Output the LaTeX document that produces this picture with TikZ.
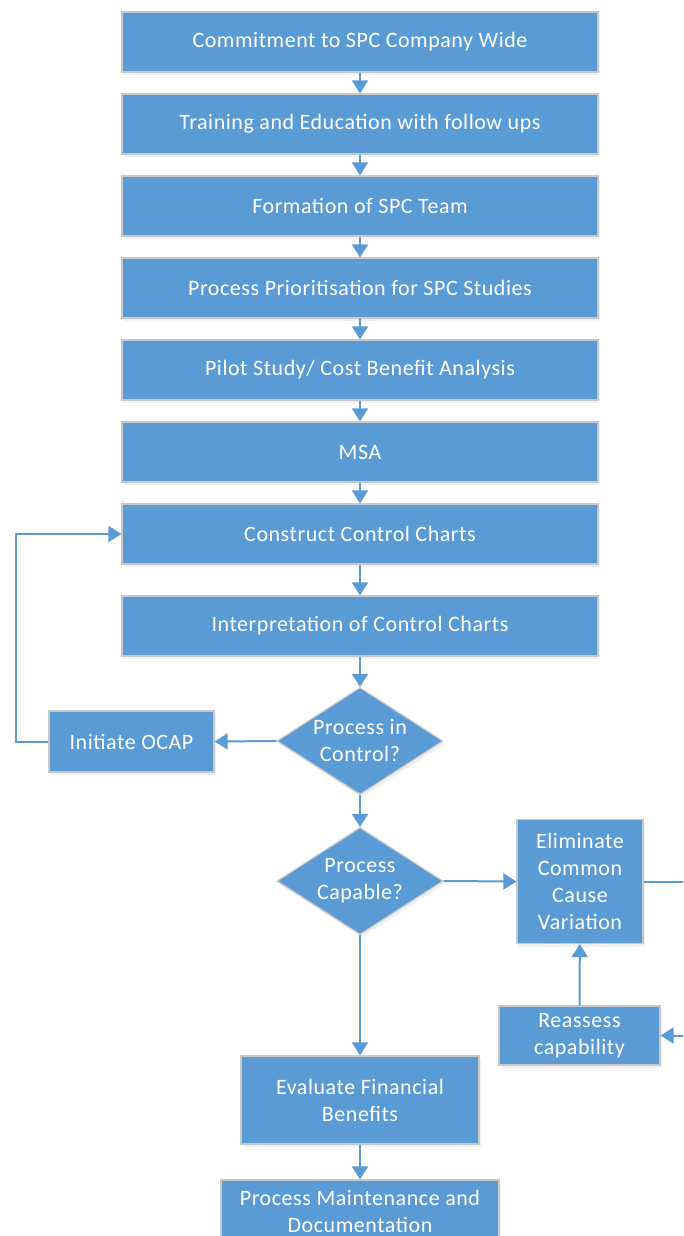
\documentclass[tikz,border=0pt]{standalone}
\usepackage{fontspec}
\setmainfont{Carlito}[LetterSpace=2.5]
\usetikzlibrary{arrows.meta,shapes.geometric,shadows}
\definecolor{boxblue}{HTML}{5B9BD5}
\definecolor{boxedge}{HTML}{C8C8C8}

\begin{document}
\begin{tikzpicture}[x=1pt,y=-1pt,
  base/.style={fill=boxblue, draw=boxedge, line width=1.2pt, text=white,
    font=\fontsize{22}{27}\selectfont, inner sep=0pt, align=center,
    drop shadow={opacity=0.12, shadow xshift=2pt, shadow yshift=-3pt}},
  stepbox/.style={base, rectangle, minimum width=476pt, minimum height=60pt},
  sidebox/.style={base, rectangle},
  decision/.style={base, diamond, minimum width=166pt, minimum height=107pt},
  lbl/.style={text=white, font=\fontsize{22}{27}\selectfont, inner sep=0pt, align=center},
  flow/.style={draw=boxblue, line width=2pt, -{Triangle[width=16pt,length=13pt]}},
  plain/.style={draw=boxblue, line width=2pt}
]
\clip (0,0) rectangle (683,1236);

% main column
\node[stepbox] (commit) at (360,42)  {Commitment to SPC Company Wide};
\node[stepbox] (train)  at (360,124) {Training and Education with follow ups};
\node[stepbox] (team)   at (360,206) {Formation of SPC Team};
\node[stepbox] (prio)   at (360,288) {Process Prioritisation for SPC Studies};
\node[stepbox] (pilot)  at (360,370) {Pilot Study/ Cost Benefit Analysis};
\node[stepbox] (msa)    at (360,452) {MSA};
\node[stepbox] (build)  at (360,534) {Construct Control Charts};
\node[stepbox] (interp) at (360,626) {Interpretation of Control Charts};

% decisions
\node[decision] (inctrl) at (360,741) {};
\node[lbl] at (inctrl) {Process in\\Control?};
\node[decision] (capable) at (360,881) {};
\node[lbl] at (capable) {Process\\Capable?};

% side and lower boxes
\node[sidebox, minimum width=165pt, minimum height=61pt] (ocap) at (131.5,741.5) {Initiate OCAP};
\node[sidebox, minimum width=126pt, minimum height=124pt] (elim) at (580,881.5) {Eliminate\\Common\\Cause\\Variation};
\node[sidebox, minimum width=161pt, minimum height=59pt] (reass) at (579.5,1035.5) {Reassess\\capability};
\node[sidebox, minimum width=238pt, minimum height=88pt] (fin) at (360,1100) {Evaluate Financial\\Benefits};
\node[sidebox, minimum width=278pt, minimum height=63pt] (maint) at (360,1211.5) {Process Maintenance and\\Documentation};

% connectors
\draw[flow] (commit) -- (train);
\draw[flow] (train) -- (team);
\draw[flow] (team) -- (prio);
\draw[flow] (prio) -- (pilot);
\draw[flow] (pilot) -- (msa);
\draw[flow] (msa) -- (build);
\draw[flow] (build) -- (interp);
\draw[flow] (interp) -- (inctrl);
\draw[flow] (inctrl) -- (capable);
\draw[flow] (inctrl.west) -- (ocap.east);
\draw[flow] (ocap.west) -- ++(-32,0) |- (build.west);
\draw[flow] (capable.east) -- (elim.west);
\draw[flow] (elim.east) -- ++(60,0) |- (reass.east);
\draw[flow] (reass) -- (elim);
\draw[flow] (capable) -- (fin);
\draw[flow] (fin) -- (maint);
\end{tikzpicture}
\end{document}
